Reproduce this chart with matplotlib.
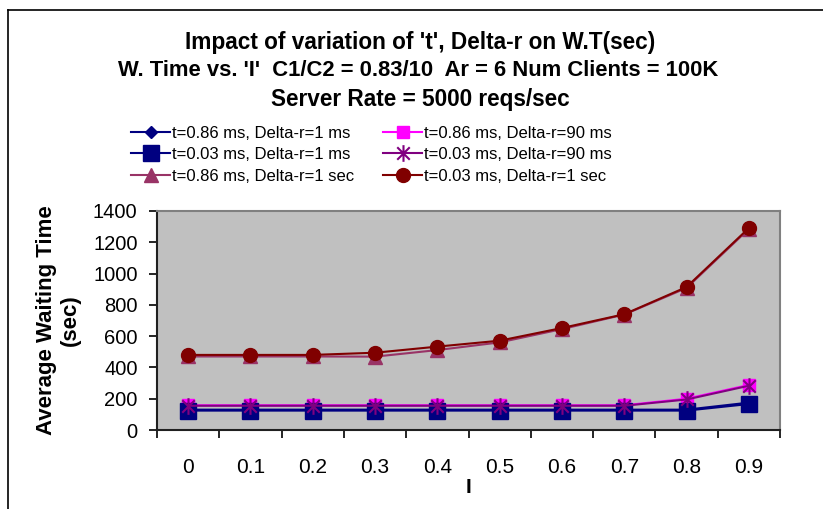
import matplotlib
matplotlib.use("Agg")
import matplotlib.pyplot as plt
from matplotlib.lines import Line2D
from matplotlib.path import Path

plt.rcParams['font.family'] = ['Liberation Sans', 'DejaVu Sans']

categories = ["0", "0.1", "0.2", "0.3", "0.4", "0.5", "0.6", "0.7", "0.8", "0.9"]
s_086_1ms = [130, 130, 130, 130, 130, 130, 130, 130, 130, 175]
s_086_90ms = [158, 158, 158, 158, 158, 158, 158, 158, 200, 288]
s_003_1ms = [124, 124, 124, 124, 124, 124, 124, 124, 124, 166]
s_003_90ms = [155, 155, 155, 155, 155, 155, 155, 155, 195, 283]
s_086_1s = [470, 470, 470, 469, 511, 560, 645, 738, 908, 1285]
s_003_1s = [480, 480, 480, 494, 533, 571, 652, 740, 914, 1291]

labels = ["t=0.86 ms, Delta-r=1 ms", "t=0.86 ms, Delta-r=90 ms",
          "t=0.03 ms, Delta-r=1 ms", "t=0.03 ms, Delta-r=90 ms",
          "t=0.86 ms, Delta-r=1 sec", "t=0.03 ms, Delta-r=1 sec"]

# Excel-style asterisk: vertical bar plus an X
star = Path([(0, -1), (0, 1), (-0.75, -0.75), (0.75, 0.75), (-0.75, 0.75), (0.75, -0.75)],
            [Path.MOVETO, Path.LINETO, Path.MOVETO, Path.LINETO, Path.MOVETO, Path.LINETO])

fig = plt.figure(figsize=(8.23, 5.09), dpi=100)
fig.add_artist(Line2D([8/823, 8/823], [0, 1 - 10/509], transform=fig.transFigure, color='black', lw=1.2))
fig.add_artist(Line2D([8/823, 1], [1 - 10/509, 1 - 10/509], transform=fig.transFigure, color='black', lw=1.2))

ax = fig.add_axes([157/823, (509-430)/509, (780-157)/823, (430-211)/509])
ax.set_facecolor('#C0C0C0')
x = list(range(len(categories)))

series = [
    (s_086_1ms, dict(color='#000080', marker='D', ms=6.5, mfc='#000080', mec='#000080')),
    (s_086_90ms, dict(color='#FF00FF', marker='s', ms=9, mfc='#FF00FF', mec='#FF00FF')),
    (s_003_1ms, dict(color='#000080', marker='s', ms=12, mfc='#000080', mec='#000080')),
    (s_003_90ms, dict(color='#800080', marker=star, ms=12, mew=1.5, mec='#800080')),
    (s_086_1s, dict(color='#993366', marker='^', ms=10, mfc='#993366', mec='#993366')),
    (s_003_1s, dict(color='#800000', marker='o', ms=10, mfc='#800000', mec='#800000')),
]
handles = []
for (vals, st), lab in zip(series, labels):
    h, = ax.plot(x, vals, lw=1.5, label=lab, **st)
    handles.append(h)

ax.set_xlim(-0.5, 9.5)
ax.set_ylim(0, 1400)
ax.set_yticks(range(0, 1401, 200))
ax.set_xticks([i - 0.5 for i in range(11)], minor=False)
ax.set_xticklabels([])
ax.set_xticks(x, minor=True)
ax.set_xticklabels(categories, minor=True)
ax.tick_params(axis='x', which='major', direction='out', length=6, width=1.2, color='black')
ax.tick_params(axis='x', which='minor', length=0, labelsize=15, pad=20)
ax.tick_params(axis='y', direction='out', length=6, width=1.2, labelsize=14.5, pad=8)
for side in ['left', 'bottom']:
    ax.spines[side].set_color('#202020')
    ax.spines[side].set_linewidth(1.5)
for side in ['top', 'right']:
    ax.spines[side].set_color('#808080')
    ax.spines[side].set_linewidth(1.5)

ax.set_ylabel("Average Waiting Time\n(sec)", fontsize=16, fontweight='bold', labelpad=9, linespacing=1.18)
ax.set_xlabel("I", fontsize=15, fontweight='bold', labelpad=1)

fig.text(420/823, 1 - 43/509, "Impact of variation of 't', Delta-r on W.T(sec)", ha='center', va='center',
         fontsize=16.3, fontweight='bold')
fig.text(418/823, 1 - 71/509, "W. Time vs. 'I'  C1/C2 = 0.83/10  Ar = 6 Num Clients = 100K", ha='center', va='center',
         fontsize=15.8, fontweight='bold')
fig.text(420/823, 1 - 99/509, "Server Rate = 5000 reqs/sec", ha='center', va='center',
         fontsize=16.3, fontweight='bold')

order = [0, 2, 4, 1, 3, 5]
leg = fig.legend([handles[i] for i in order], [labels[i] for i in order], ncol=2,
                 loc='upper left', bbox_to_anchor=(131/823, 1 - 126/509), frameon=False,
                 fontsize=12, handlelength=2.35, handletextpad=0.1, columnspacing=1.76,
                 labelspacing=0.38, borderpad=0, borderaxespad=0)

fig.savefig("out.png", dpi=100)
